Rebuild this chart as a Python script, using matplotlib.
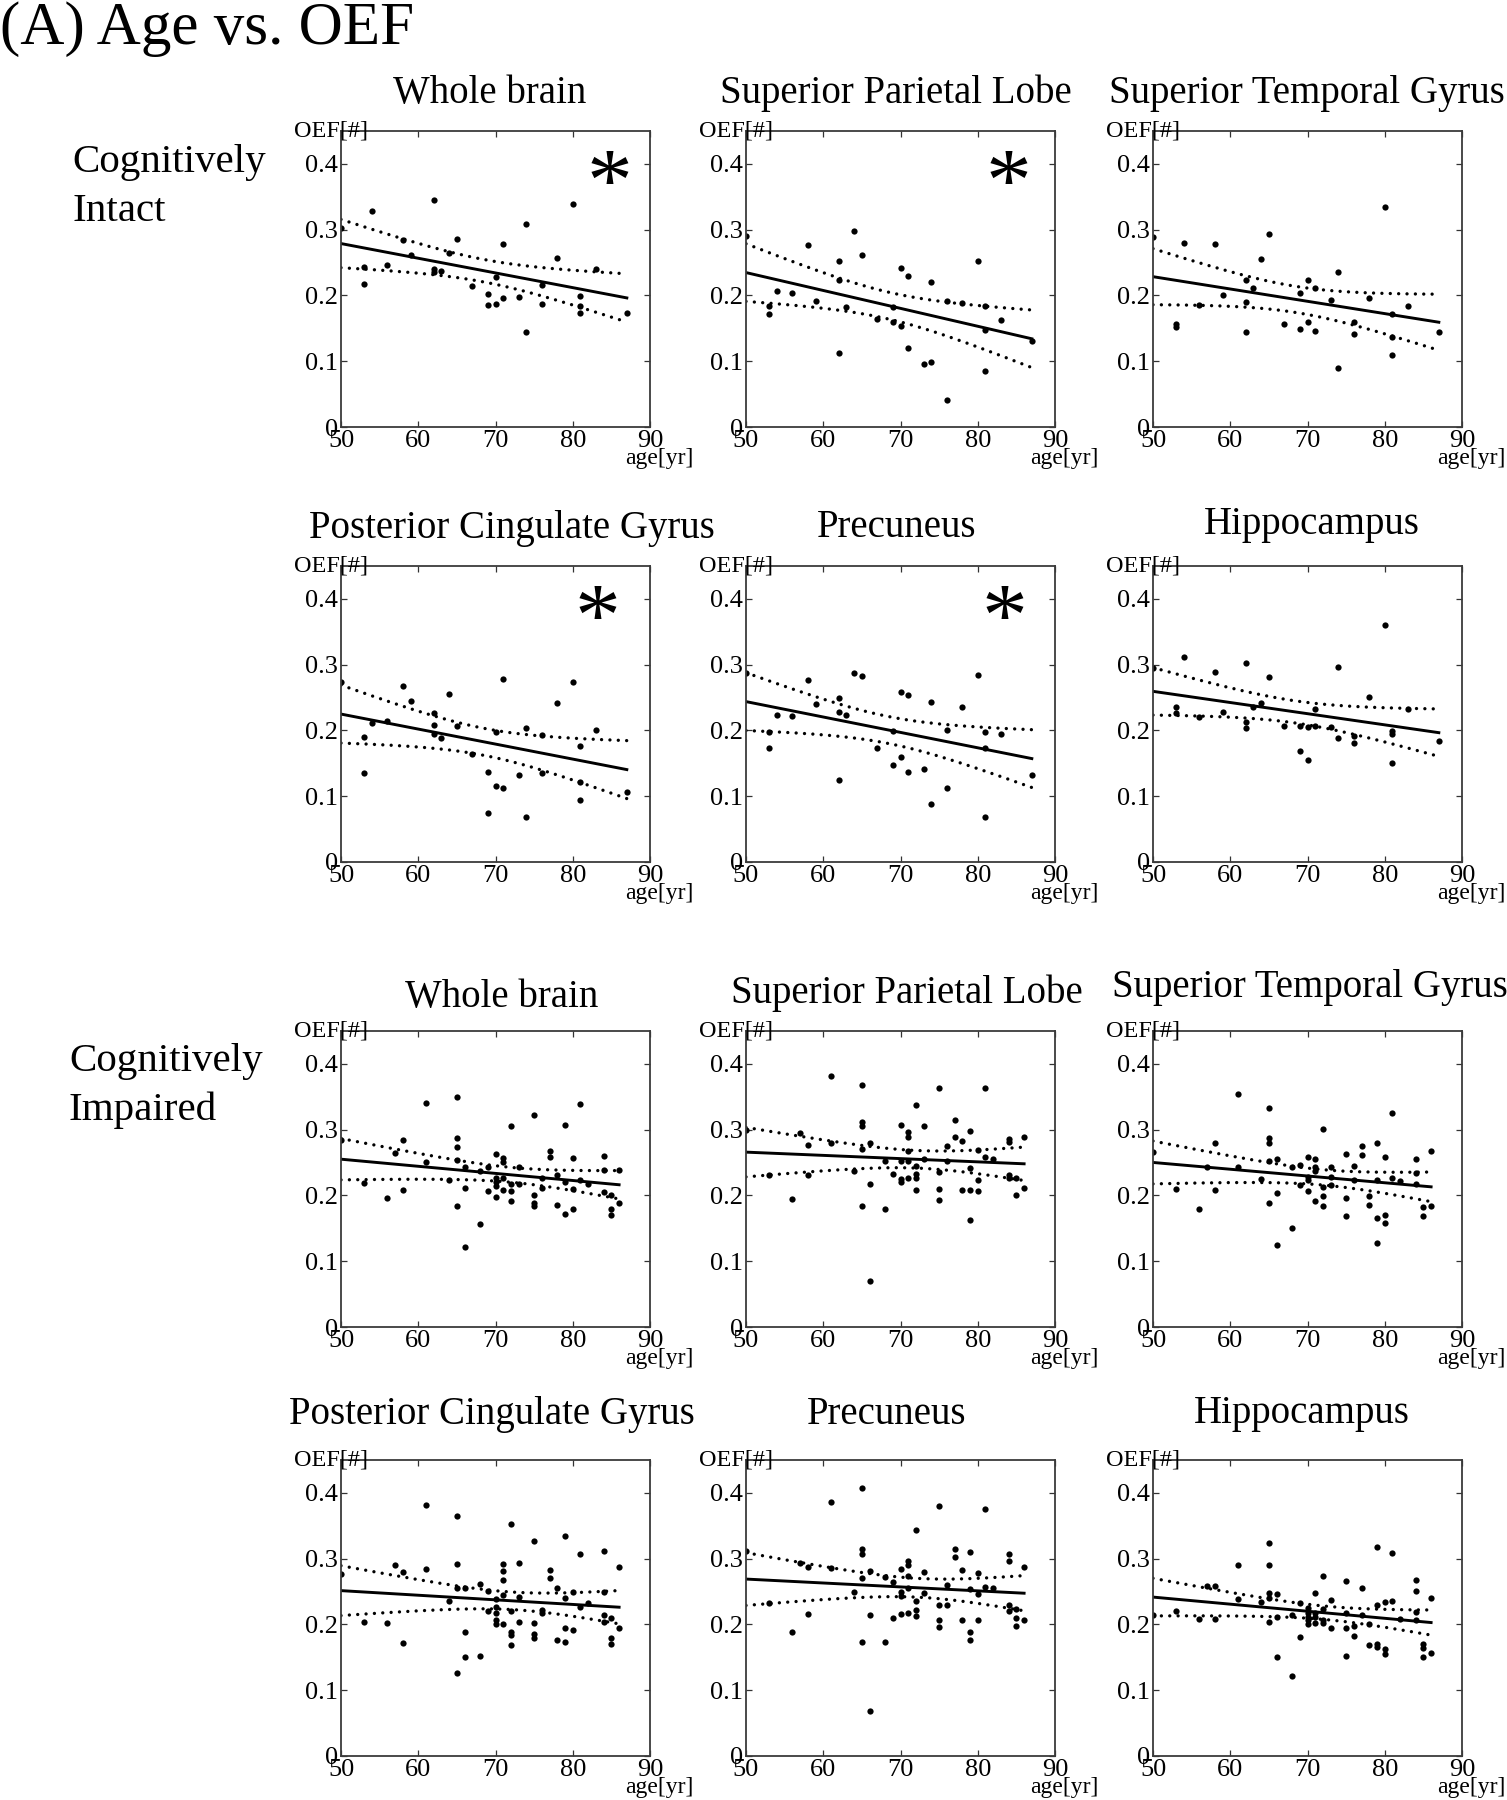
import numpy as np
import matplotlib
matplotlib.use('Agg')
import matplotlib.pyplot as plt
from matplotlib.ticker import FixedLocator, FuncFormatter

plt.rcParams['font.family'] = ['Liberation Serif', 'DejaVu Serif']

# ---- cognitively intact group (same subjects in all six upper panels) ----
age_intact = [50, 53, 53, 54, 56, 58, 59, 62, 62, 62, 63, 64, 65, 67, 69, 69,
              70, 70, 71, 71, 73, 74, 74, 76, 76, 78, 80, 81, 81, 81, 83, 87]

oef_ci_whole = [0.302, 0.243, 0.217, 0.329, 0.247, 0.284, 0.261, 0.345, 0.240, 0.235, 0.237, 0.264, 0.286, 0.215, 0.202, 0.185,
                0.228, 0.187, 0.278, 0.196, 0.198, 0.309, 0.145, 0.216, 0.187, 0.257, 0.339, 0.199, 0.184, 0.173, 0.240, 0.174]
oef_ci_spl = [0.290, 0.184, 0.172, 0.207, 0.203, 0.276, 0.192, 0.252, 0.223, 0.113, 0.183, 0.298, 0.262, 0.164, 0.183, 0.160,
              0.241, 0.153, 0.229, 0.120, 0.096, 0.220, 0.099, 0.192, 0.041, 0.189, 0.252, 0.184, 0.147, 0.085, 0.162, 0.130]
oef_ci_stg = [0.289, 0.157, 0.152, 0.279, 0.186, 0.278, 0.200, 0.223, 0.190, 0.144, 0.212, 0.255, 0.293, 0.157, 0.203, 0.149,
              0.224, 0.160, 0.212, 0.146, 0.193, 0.235, 0.090, 0.159, 0.142, 0.196, 0.334, 0.172, 0.137, 0.109, 0.184, 0.145]
oef_ci_pcg = [0.274, 0.190, 0.136, 0.211, 0.215, 0.268, 0.245, 0.226, 0.208, 0.194, 0.189, 0.256, 0.207, 0.164, 0.137, 0.075,
              0.198, 0.115, 0.278, 0.112, 0.132, 0.204, 0.069, 0.193, 0.136, 0.241, 0.274, 0.177, 0.121, 0.095, 0.200, 0.106]
oef_ci_prec = [0.287, 0.198, 0.173, 0.224, 0.222, 0.277, 0.240, 0.249, 0.228, 0.124, 0.224, 0.288, 0.283, 0.174, 0.199, 0.147,
               0.258, 0.159, 0.254, 0.137, 0.141, 0.244, 0.088, 0.200, 0.113, 0.236, 0.284, 0.198, 0.173, 0.068, 0.195, 0.132]
oef_ci_hipp = [0.295, 0.235, 0.227, 0.311, 0.220, 0.289, 0.228, 0.303, 0.213, 0.204, 0.236, 0.242, 0.281, 0.206, 0.207, 0.169,
               0.205, 0.155, 0.233, 0.207, 0.205, 0.296, 0.188, 0.191, 0.181, 0.251, 0.360, 0.199, 0.194, 0.150, 0.232, 0.184]

# ---- cognitively impaired group (read panel by panel) ----
age_imp_whole = [50, 53, 56, 57, 58, 58, 61, 61, 64, 65, 65, 65, 65, 65, 66, 66, 66, 68, 68, 69, 69,
                 70, 70, 70, 70, 70, 71, 71, 71, 71, 72, 72, 72, 72, 73, 73, 75, 75, 75, 75, 76, 76,
                 77, 77, 78, 78, 79, 79, 79, 80, 80, 80, 81, 81, 82, 84, 84, 84, 85, 85, 85, 86, 86]
oef_imp_whole = [0.284, 0.219, 0.196, 0.264, 0.284, 0.209, 0.341, 0.251, 0.224, 0.349, 0.287, 0.274, 0.254, 0.184, 0.244, 0.212, 0.121, 0.237, 0.157, 0.244, 0.207,
                 0.263, 0.226, 0.221, 0.215, 0.197, 0.257, 0.251, 0.226, 0.208, 0.305, 0.218, 0.207, 0.191, 0.243, 0.218, 0.323, 0.200, 0.188, 0.184, 0.227, 0.211,
                 0.267, 0.258, 0.231, 0.185, 0.307, 0.221, 0.172, 0.257, 0.210, 0.179, 0.339, 0.223, 0.217, 0.260, 0.238, 0.205, 0.200, 0.179, 0.171, 0.238, 0.188]

age_imp_spl = [50, 53, 56, 57, 58, 58, 61, 61, 64, 65, 65, 65, 65, 65, 66, 66, 66, 68, 68, 69,
               70, 70, 70, 70, 71, 71, 71, 71, 71, 72, 72, 72, 72, 72, 73, 73, 75, 75, 75, 75, 76, 76,
               77, 77, 78, 78, 79, 79, 79, 79, 80, 80, 80, 81, 81, 82, 84, 84, 84, 84, 85, 85, 86, 86]
oef_imp_spl = [0.299, 0.231, 0.194, 0.295, 0.277, 0.231, 0.381, 0.280, 0.237, 0.368, 0.311, 0.306, 0.270, 0.184, 0.279, 0.218, 0.070, 0.253, 0.180, 0.233,
               0.307, 0.253, 0.225, 0.221, 0.297, 0.289, 0.268, 0.253, 0.227, 0.338, 0.245, 0.232, 0.227, 0.208, 0.306, 0.255, 0.364, 0.235, 0.210, 0.193, 0.275, 0.253,
               0.315, 0.289, 0.283, 0.208, 0.298, 0.241, 0.208, 0.162, 0.269, 0.224, 0.206, 0.364, 0.258, 0.255, 0.286, 0.281, 0.231, 0.227, 0.226, 0.201, 0.289, 0.212]

age_imp_stg = [50, 53, 56, 57, 58, 58, 61, 61, 64, 65, 65, 65, 65, 65, 66, 66, 66, 68, 68, 69, 69,
               70, 70, 70, 70, 71, 71, 71, 71, 72, 72, 72, 72, 73, 73, 73, 75, 75, 75, 76, 76,
               77, 77, 78, 78, 79, 79, 79, 79, 80, 80, 80, 81, 81, 82, 84, 84, 84, 85, 85, 86, 86]
oef_imp_stg = [0.266, 0.210, 0.179, 0.244, 0.279, 0.209, 0.354, 0.244, 0.225, 0.333, 0.287, 0.279, 0.252, 0.188, 0.256, 0.204, 0.124, 0.243, 0.150, 0.246, 0.216,
               0.258, 0.228, 0.224, 0.207, 0.256, 0.243, 0.237, 0.191, 0.301, 0.213, 0.199, 0.184, 0.244, 0.228, 0.216, 0.263, 0.196, 0.169, 0.245, 0.223,
               0.275, 0.261, 0.199, 0.185, 0.279, 0.224, 0.165, 0.128, 0.258, 0.171, 0.158, 0.326, 0.227, 0.222, 0.255, 0.234, 0.218, 0.183, 0.169, 0.268, 0.184]

age_imp_pcg = [50, 53, 56, 57, 58, 58, 61, 61, 64, 65, 65, 65, 65, 66, 66, 66, 68, 68, 69, 69,
               70, 70, 70, 70, 70, 71, 71, 71, 71, 71, 72, 72, 72, 72, 72, 73, 73, 73, 75, 75, 75, 75, 76, 76,
               77, 77, 78, 78, 79, 79, 79, 79, 80, 80, 81, 81, 82, 84, 84, 84, 84, 85, 85, 85, 86, 86]
oef_imp_pcg = [0.276, 0.204, 0.202, 0.290, 0.279, 0.172, 0.381, 0.284, 0.235, 0.365, 0.292, 0.255, 0.126, 0.255, 0.189, 0.151, 0.261, 0.152, 0.251, 0.221,
               0.239, 0.227, 0.217, 0.207, 0.201, 0.292, 0.282, 0.268, 0.245, 0.200, 0.352, 0.221, 0.189, 0.184, 0.169, 0.294, 0.241, 0.204, 0.327, 0.202, 0.185, 0.180, 0.222, 0.217,
               0.283, 0.271, 0.255, 0.176, 0.334, 0.240, 0.195, 0.173, 0.249, 0.191, 0.307, 0.226, 0.233, 0.311, 0.249, 0.214, 0.204, 0.210, 0.179, 0.171, 0.287, 0.194]

age_imp_prec = [50, 53, 56, 57, 58, 58, 61, 61, 64, 65, 65, 65, 65, 65, 66, 66, 66, 68, 68, 69, 69,
                70, 70, 70, 70, 71, 71, 71, 71, 71, 72, 72, 72, 72, 73, 73, 75, 75, 75, 75, 76, 76,
                77, 77, 78, 78, 79, 79, 79, 79, 80, 80, 80, 81, 81, 82, 84, 84, 84, 84, 85, 85, 85, 86, 86]
oef_imp_prec = [0.311, 0.232, 0.189, 0.294, 0.288, 0.216, 0.386, 0.286, 0.249, 0.408, 0.314, 0.307, 0.270, 0.174, 0.281, 0.214, 0.068, 0.272, 0.174, 0.264, 0.210,
                0.285, 0.250, 0.244, 0.216, 0.297, 0.290, 0.273, 0.256, 0.217, 0.344, 0.236, 0.222, 0.213, 0.280, 0.248, 0.380, 0.229, 0.206, 0.196, 0.260, 0.229,
                0.314, 0.303, 0.283, 0.207, 0.310, 0.254, 0.189, 0.177, 0.278, 0.247, 0.206, 0.375, 0.257, 0.256, 0.307, 0.297, 0.229, 0.220, 0.224, 0.210, 0.198, 0.287, 0.207]

age_imp_hipp = [50, 53, 56, 57, 58, 58, 61, 61, 64, 65, 65, 65, 65, 65, 66, 66, 66, 68, 68, 69, 69,
                70, 70, 70, 70, 70, 71, 71, 71, 71, 72, 72, 72, 72, 73, 73, 75, 75, 75, 75, 76, 76,
                77, 77, 78, 78, 79, 79, 79, 79, 80, 80, 80, 81, 81, 82, 84, 84, 84, 84, 85, 85, 85, 86, 86]
oef_imp_hipp = [0.215, 0.221, 0.209, 0.259, 0.259, 0.208, 0.291, 0.239, 0.234, 0.324, 0.291, 0.248, 0.240, 0.204, 0.246, 0.212, 0.151, 0.214, 0.121, 0.232, 0.181,
                0.225, 0.218, 0.211, 0.206, 0.201, 0.248, 0.217, 0.211, 0.202, 0.273, 0.223, 0.206, 0.202, 0.237, 0.195, 0.266, 0.218, 0.194, 0.152, 0.198, 0.183,
                0.255, 0.214, 0.201, 0.169, 0.318, 0.230, 0.171, 0.166, 0.234, 0.162, 0.155, 0.308, 0.235, 0.208, 0.268, 0.251, 0.219, 0.207, 0.170, 0.164, 0.150, 0.240, 0.156]

regions = ['Whole brain', 'Superior Parietal Lobe', 'Superior Temporal Gyrus',
           'Posterior Cingulate Gyrus', 'Precuneus', 'Hippocampus']
significant_intact = [True, True, False, True, True, False]
significant_impaired = [False] * 6

x_ticks = [50, 60, 70, 80, 90]
y_ticks = [0, 0.1, 0.2, 0.3, 0.4]

panels = [
    (age_intact, oef_ci_whole), (age_intact, oef_ci_spl), (age_intact, oef_ci_stg),
    (age_intact, oef_ci_pcg), (age_intact, oef_ci_prec), (age_intact, oef_ci_hipp),
    (age_imp_whole, oef_imp_whole), (age_imp_spl, oef_imp_spl), (age_imp_stg, oef_imp_stg),
    (age_imp_pcg, oef_imp_pcg), (age_imp_prec, oef_imp_prec), (age_imp_hipp, oef_imp_hipp),
]
stars = significant_intact + significant_impaired
titles = regions + regions

# layout in pixels of the 1507 x 1800 canvas
W, H = 1507, 1800
col_left = [341, 746, 1153]
row_top = [131, 566, 1031, 1460]
ax_w, ax_h = 309, 296
title_cx = [490, 896, 1307, 512, 897, 1312, 502, 907, 1310, 492, 887, 1302]
title_base = [103, 103, 103, 538, 537, 534, 1007, 1003, 997, 1424, 1424, 1423]
star_x = [0.869, 0.849, 0.85, 0.83, 0.835, 0.85]


def t_crit(df, z=1.959964):
    # Cornish-Fisher approximation of the two-sided 95% t quantile
    return z + (z ** 3 + z) / (4 * df) + (5 * z ** 5 + 16 * z ** 3 + 3 * z) / (96 * df ** 2)


def fit_band(x, y):
    x = np.asarray(x, float)
    y = np.asarray(y, float)
    n = len(x)
    slope, icept = np.polyfit(x, y, 1)
    s = np.sqrt(np.sum((y - (slope * x + icept)) ** 2) / (n - 2))
    xs = np.linspace(x.min(), x.max(), 150)
    fit = slope * xs + icept
    half = t_crit(n - 2) * s * np.sqrt(1 / n + (xs - x.mean()) ** 2 / np.sum((x - x.mean()) ** 2))
    return xs, fit, fit - half, fit + half


fig = plt.figure(figsize=(W / 100, H / 100), dpi=100)
dotted = (0, (0.01, 2.5))

for i, (ages, oef) in enumerate(panels):
    assert len(ages) == len(oef)
    r, c = divmod(i, 3)
    ax = fig.add_axes([col_left[c] / W, 1 - (row_top[r] + ax_h) / H, ax_w / W, ax_h / H])

    xs, fit, lo, hi = fit_band(ages, oef)
    ax.plot(xs, hi, color='black', lw=2.4, linestyle=dotted, dash_capstyle='round')
    ax.plot(xs, lo, color='black', lw=2.4, linestyle=dotted, dash_capstyle='round')
    ax.plot(xs, fit, color='black', lw=2.1)
    ax.plot(ages, oef, 'o', color='black', ms=4.5, mew=0)

    ax.set_xlim(50, 90)
    ax.set_ylim(0, 0.45)
    ax.xaxis.set_major_locator(FixedLocator(x_ticks))
    ax.yaxis.set_major_locator(FixedLocator(y_ticks))
    ax.yaxis.set_major_formatter(FuncFormatter(lambda v, p: f'{v:g}'))
    ax.tick_params(direction='in', length=4, width=0.9, top=True, right=True,
                   labelsize=19, pad=2, color='#333333')
    for sp in ax.spines.values():
        sp.set_linewidth(1.3)
        sp.set_color('#3a3a3a')

    ax.text(-0.032, 1.0, 'OEF[#]', transform=ax.transAxes, ha='center', va='center', fontsize=17.5)
    ax.text(1.03, -0.072, 'age[yr]', transform=ax.transAxes, ha='center', va='top', fontsize=17)

    if stars[i]:
        ax.text(star_x[i % 6], 0.73, '*', transform=ax.transAxes, ha='center', va='baseline', fontsize=66)

    fig.text(title_cx[i] / W, 1 - title_base[i] / H, titles[i], ha='center', va='baseline', fontsize=28)

fig.text(0.0, 1 - 44 / H, '(A) Age vs. OEF', ha='left', va='baseline', fontsize=44)
fig.text(72 / W, 1 - 172 / H, 'Cognitively', ha='left', va='baseline', fontsize=29.5)
fig.text(72 / W, 1 - 221 / H, 'Intact', ha='left', va='baseline', fontsize=29.5)
fig.text(69 / W, 1 - 1071 / H, 'Cognitively', ha='left', va='baseline', fontsize=29.5)
fig.text(69 / W, 1 - 1120 / H, 'Impaired', ha='left', va='baseline', fontsize=29.5)

fig.savefig('out.png', dpi=100, facecolor='white')
